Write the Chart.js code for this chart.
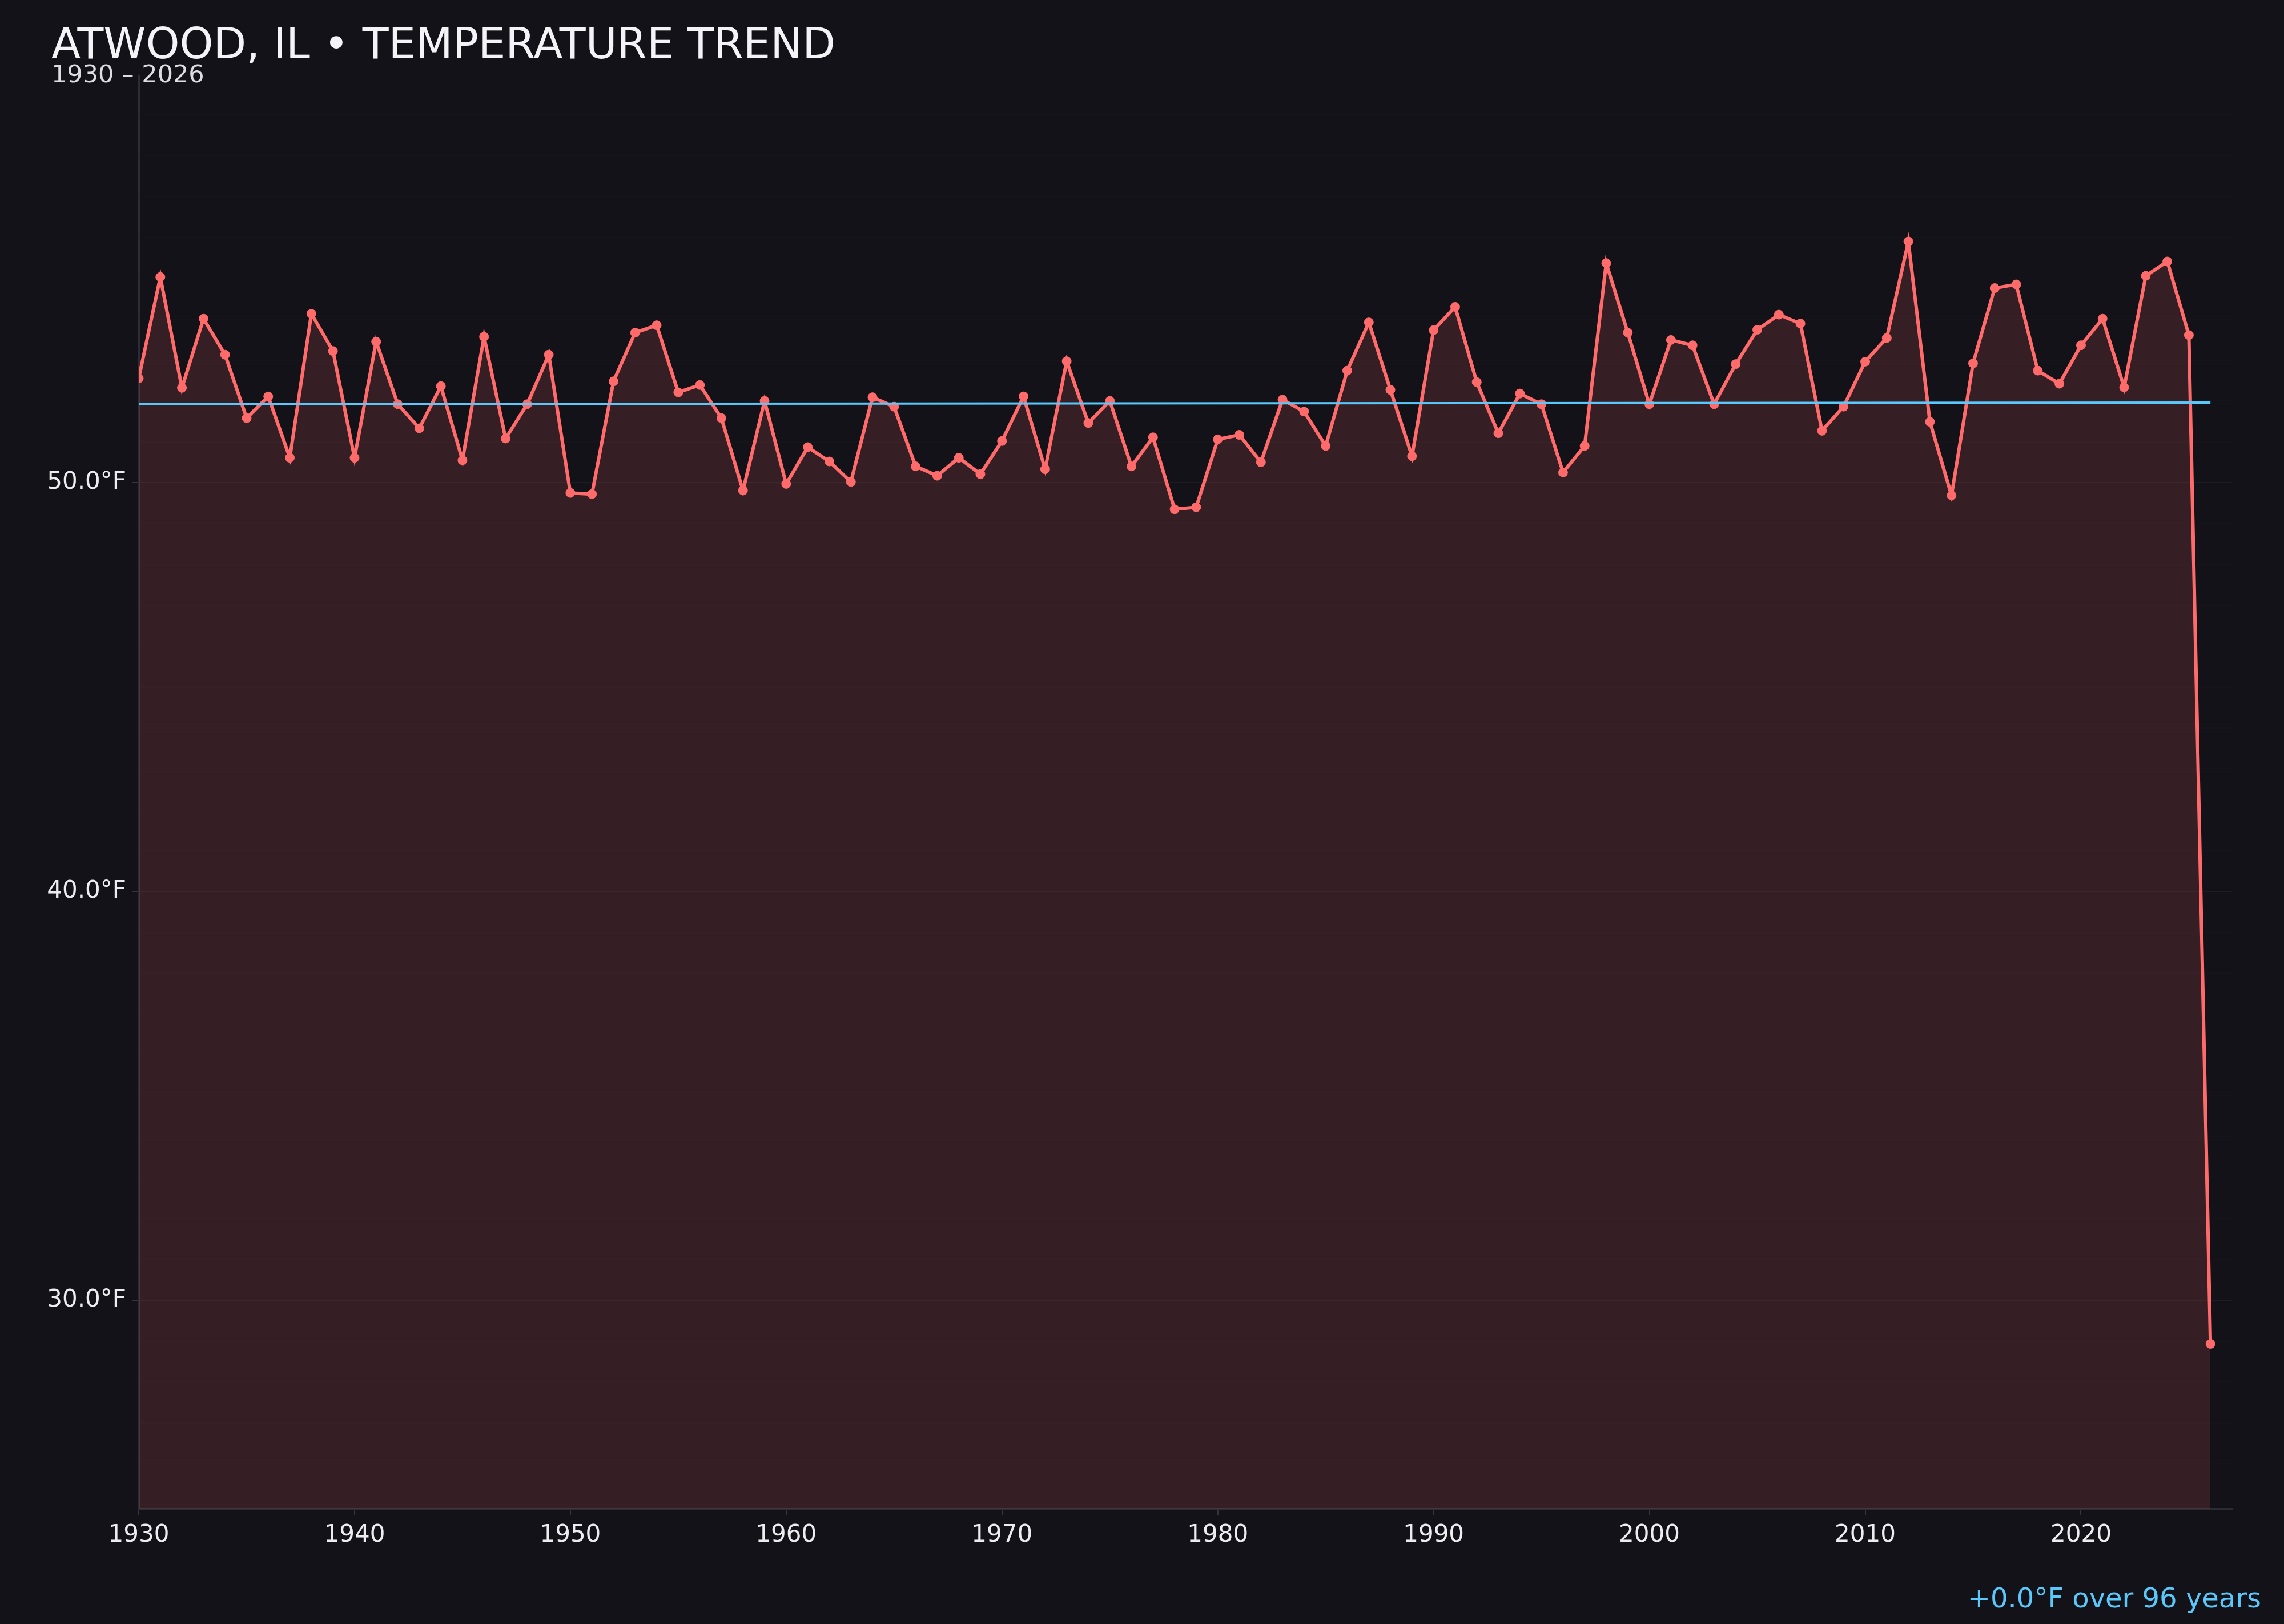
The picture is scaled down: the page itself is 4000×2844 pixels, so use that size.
<!DOCTYPE html>
<html>
<head>
<meta charset="utf-8">
<title>Atwood, IL temperature trend</title>
<script src="https://cdn.jsdelivr.net/npm/chart.js@4.4.0/dist/chart.umd.min.js"></script>
<style>
  html, body { margin: 0; padding: 0; background: #121218; }
  #wrap { width: 4000px; height: 2844px; }
</style>
</head>
<body>
<div id="wrap"><canvas id="chart" width="4000" height="2844"></canvas></div>
<script>
// Data
const years = [
  1930, 1931, 1932, 1933, 1934, 1935, 1936, 1937, 1938, 1939,
  1940, 1941, 1942, 1943, 1944, 1945, 1946, 1947, 1948, 1949,
  1950, 1951, 1952, 1953, 1954, 1955, 1956, 1957, 1958, 1959,
  1960, 1961, 1962, 1963, 1964, 1965, 1966, 1967, 1968, 1969,
  1970, 1971, 1972, 1973, 1974, 1975, 1976, 1977, 1978, 1979,
  1980, 1981, 1982, 1983, 1984, 1985, 1986, 1987, 1988, 1989,
  1990, 1991, 1992, 1993, 1994, 1995, 1996, 1997, 1998, 1999,
  2000, 2001, 2002, 2003, 2004, 2005, 2006, 2007, 2008, 2009,
  2010, 2011, 2012, 2013, 2014, 2015, 2016, 2017, 2018, 2019,
  2020, 2021, 2022, 2023, 2024, 2025, 2026
];
const temps = [
  52.55, 55.03, 52.32, 54.01, 53.13, 51.58, 52.11, 50.61, 54.13, 53.22,
  50.61, 53.45, 51.92, 51.33, 52.36, 50.55, 53.57, 51.08, 51.92, 53.13,
  49.75, 49.72, 52.48, 53.67, 53.85, 52.21, 52.39, 51.58, 49.81, 52.00,
  49.97, 50.87, 50.52, 50.02, 52.09, 51.86, 50.40, 50.17, 50.61, 50.21,
  51.02, 52.11, 50.33, 52.97, 51.46, 52.00, 50.40, 51.11, 49.35, 49.40,
  51.06, 51.17, 50.50, 52.03, 51.74, 50.90, 52.74, 53.92, 52.27, 50.65,
  53.73, 54.30, 52.46, 51.21, 52.18, 51.92, 50.25, 50.90, 55.37, 53.67,
  51.92, 53.49, 53.36, 51.92, 52.90, 53.74, 54.11, 53.89, 51.27, 51.86,
  52.96, 53.54, 55.90, 51.49, 49.69, 52.92, 54.76, 54.85, 52.74, 52.42,
  53.36, 54.01, 52.33, 55.06, 55.41, 53.61, 28.93
];
const trendYears = [1930, 2026];
const trendValues = [51.92, 51.96];

const xTicks = [1930, 1940, 1950, 1960, 1970, 1980, 1990, 2000, 2010, 2020];
const yLabelTicks = [30, 40, 50];
const yMin = 24.9;
const yMax = 59.95;

const titleText = 'ATWOOD, IL \u2022 TEMPERATURE TREND';
const subtitleText = '1930 \u2013 2026';
const trendText = '+0.0\u00b0F over 96 years';

const RED = '#ff6b6b';
const BLUE = '#5ac8fa';
const FONT = '"DejaVu Sans", "Noto Sans", sans-serif';

// background + title texts drawn straight on the canvas
const textPlugin = {
  id: 'texts',
  beforeDraw(chart) {
    const c = chart.ctx;
    c.save();
    c.fillStyle = '#121218';
    c.fillRect(0, 0, chart.width, chart.height);
    c.restore();
  },
  afterDraw(chart) {
    const c = chart.ctx;
    c.save();
    c.textBaseline = 'alphabetic';
    c.textAlign = 'left';
    c.fillStyle = '#f4f4f8';
    c.font = '75px ' + FONT;
    c.fillText(titleText, 90, 102);
    c.fillStyle = '#dcdce2';
    c.font = '43px ' + FONT;
    c.fillText(subtitleText, 90, 144);
    c.textAlign = 'right';
    c.fillStyle = BLUE;
    c.font = '48px ' + FONT;
    c.fillText(trendText, 3960, 2815);
    c.restore();
  }
};

const isMajor = v => yLabelTicks.includes(v);

const ctx = document.getElementById('chart').getContext('2d');
const chart = new Chart(ctx, {
  type: 'line',
  data: {
    datasets: [
      {
        label: 'Trend',
        data: trendYears.map((yr, i) => ({ x: yr, y: trendValues[i] })),
        borderColor: BLUE,
        borderWidth: 4,
        pointRadius: 0,
        fill: false,
        order: 0
      },
      {
        label: 'Temperature',
        data: years.map((yr, i) => ({ x: yr, y: temps[i] })),
        borderColor: RED,
        borderWidth: 6,
        backgroundColor: 'rgba(255, 107, 107, 0.15)',
        pointBackgroundColor: RED,
        pointBorderColor: RED,
        pointBorderWidth: 1,
        pointRadius: 8,
        tension: 0,
        fill: 'start',
        order: 1
      }
    ]
  },
  options: {
    responsive: false,
    devicePixelRatio: 1,
    animation: false,
    layout: { padding: { left: 0, top: 133, right: 91, bottom: 0 } },
    plugins: {
      legend: { display: false },
      tooltip: { enabled: false }
    },
    scales: {
      x: {
        type: 'linear',
        min: 1930,
        max: 2027,
        afterBuildTicks: axis => { axis.ticks = xTicks.map(v => ({ value: v })); },
        afterFit: axis => { axis.height = 202; },
        grid: {
          drawOnChartArea: false,
          tickLength: 11,
          tickColor: '#34343d',
          lineWidth: 2
        },
        border: { color: '#2c2c35', width: 3 },
        ticks: {
          color: '#ececf1',
          font: { family: FONT, size: 42 },
          padding: 11,
          maxRotation: 0,
          autoSkip: false,
          callback: v => String(v)
        }
      },
      y: {
        min: yMin,
        max: yMax,
        afterBuildTicks: axis => {
          const t = [];
          for (let v = Math.ceil(yMin); v <= Math.floor(yMax); v++) t.push({ value: v });
          axis.ticks = t;
        },
        afterFit: axis => { axis.width = 243; },
        grid: {
          color: c => isMajor(c.tick.value) ? 'rgba(255,255,255,0.045)' : 'rgba(255,255,255,0.013)',
          tickColor: c => isMajor(c.tick.value) ? '#34343d' : 'rgba(0,0,0,0)',
          tickLength: 11,
          lineWidth: 2
        },
        border: { color: '#2c2c35', width: 3 },
        ticks: {
          color: '#ececf1',
          font: { family: FONT, size: 42 },
          padding: 11,
          autoSkip: false,
          callback: v => isMajor(v) ? v.toFixed(1) + '\u00b0F' : ''
        }
      }
    }
  },
  plugins: [textPlugin]
});
</script>
</body>
</html>
